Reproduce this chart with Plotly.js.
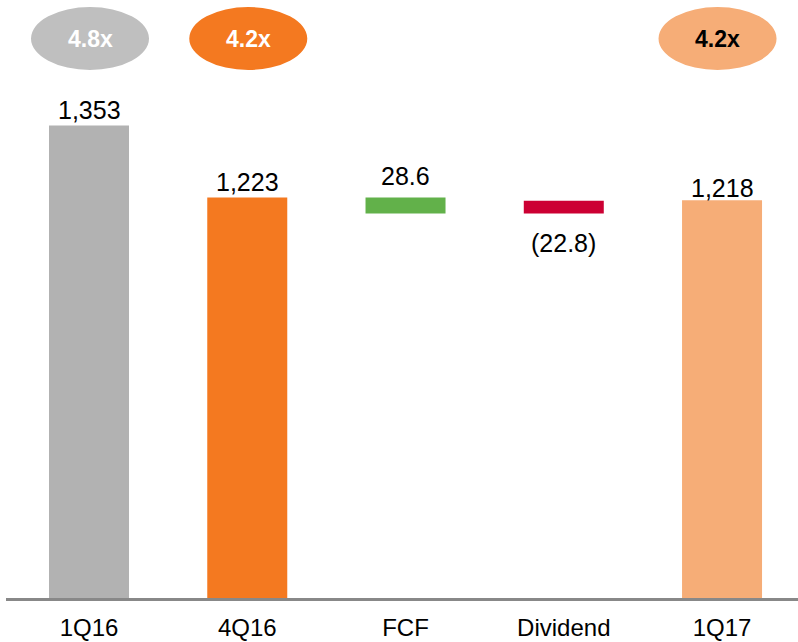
<!DOCTYPE html>
<html>
<head>
<meta charset="utf-8">
<script src="https://cdn.plot.ly/plotly-3.0.1.min.js"></script>
<style>html,body{margin:0;padding:0;background:#fff}#chart{width:798px;height:642px}</style>
</head>
<body>
<div id="chart"></div>
<script>
// ---- data ----
var categories = ['1Q16', '4Q16', 'FCF', 'Dividend', '1Q17'];
var values = [1353, 1223, -28.6, 22.8, 1218];
var kinds = ['total', 'total', 'delta', 'delta', 'total'];
var valueLabels = ['1,353', '1,223', '28.6', '(22.8)', '1,218'];
var multiples = ['4.8x', '4.2x', '', '', '4.2x'];

// ---- styles ----
var barColors = ['#B2B2B2', '#F47920', '#62B14A', '#CC0033', '#F6AD77'];
var ellipseColors = ['#BFBFBF', '#F47920', null, null, '#F6AD77'];
var ellipseTextColors = ['#FFFFFF', '#FFFFFF', null, null, '#000000'];
var labelShiftPx = [0, 0, 6, -14, -4];

(function () {
  // ---- compute waterfall geometry from data ----
  var bases = [], heights = [], running = 0;
  for (var i = 0; i < values.length; i++) {
    if (kinds[i] === 'total') {
      running = values[i];
      bases.push(0); heights.push(values[i]);
    } else {
      var s = running, e = running + values[i];
      bases.push(Math.min(s, e));
      heights.push(Math.abs(values[i]));
      running = e;
    }
  }

  var FONT = 'Liberation Sans, Arial, sans-serif';
  var PX_PER_CAT = 158.25;

  var trace = {
    type: 'bar',
    x: categories,
    y: heights,
    base: bases,
    width: 0.5055,
    marker: {color: barColors, line: {width: 0}},
    hoverinfo: 'skip'
  };

  var annotations = [];
  var shapes = [];
  for (var j = 0; j < categories.length; j++) {
    var barTop = bases[j] + heights[j];
    var below = kinds[j] === 'delta' && values[j] > 0;
    annotations.push({
      x: j, xref: 'x',
      y: below ? bases[j] : barTop, yref: 'y',
      yanchor: below ? 'top' : 'bottom',
      yshift: labelShiftPx[j],
      text: valueLabels[j], showarrow: false,
      font: {family: FONT, size: 25, color: '#000000'}
    });
    if (multiples[j]) {
      var dx = (j === 4) ? -4.5 : 1;
      var cx = j + dx / PX_PER_CAT, hw = 59 / PX_PER_CAT;
      shapes.push({
        type: 'circle', xref: 'x', yref: 'paper',
        x0: cx - hw, x1: cx + hw,
        y0: 1 - 70 / 598, y1: 1 - 7 / 598,
        fillcolor: ellipseColors[j], line: {width: 0}
      });
      annotations.push({
        x: cx, xref: 'x', y: 1 - 39 / 598, yref: 'paper',
        yanchor: 'middle', text: '<b>' + multiples[j] + '</b>', showarrow: false,
        font: {family: FONT, size: 23, color: ellipseTextColors[j]}
      });
    }
  }

  var layout = {
    width: 798, height: 642,
    margin: {l: 6, r: 0, t: 0, b: 44},
    paper_bgcolor: '#ffffff', plot_bgcolor: '#ffffff',
    showlegend: false,
    xaxis: {
      type: 'category', range: [-0.5245, 4.48],
      showline: true, linecolor: '#888888', linewidth: 2.5,
      showgrid: false, zeroline: false, ticks: '',
      ticklabelstandoff: 6,
      tickfont: {family: FONT, size: 24, color: '#000000'}
    },
    yaxis: {
      range: [500, 1579.8], visible: false, showgrid: false, zeroline: false
    },
    shapes: shapes,
    annotations: annotations
  };

  Plotly.newPlot('chart', [trace], layout, {displayModeBar: false});
})();
</script>
</body>
</html>
